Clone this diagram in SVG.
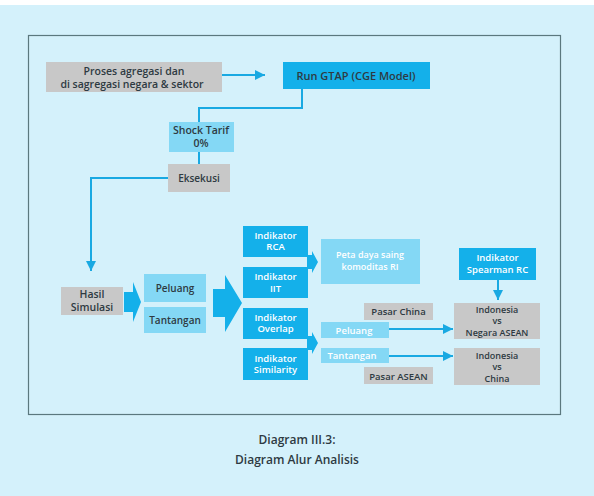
<svg xmlns="http://www.w3.org/2000/svg" width="594" height="496" viewBox="0 0 594 496">
<defs>
<marker id="ah" viewBox="0 0 10 10" refX="10" refY="5" markerWidth="10" markerHeight="10" markerUnits="userSpaceOnUse" orient="auto">
<path d="M0,0 L10,5 L0,10 z" fill="#19a9e2"/>
</marker>
<style>
.gray{fill:#c8c8c8}
.dark{fill:#14b0ea}
.light{fill:#84d8f5}
.t{font-family:"Open Sans","Noto Sans","Liberation Sans",sans-serif;font-weight:600;text-anchor:middle}
.td{fill:#2e3a42}
.tw{fill:#ffffff}
.ln{fill:none;stroke:#19a9e2;stroke-width:2}
.blk{fill:#14b0ea}
.s12{font-size:12px}
.s11{font-size:11px}
.s105{font-size:10.5px}
.s10{font-size:10px}
.s95{font-size:9.5px}
.s9{font-size:9px}
</style>
</defs>
<rect x="0" y="0" width="594" height="496" fill="#d4f1fb"/>
<rect x="0" y="0" width="594" height="5" fill="#ffffff"/>
<rect x="28.5" y="35.5" width="532" height="379" fill="none" stroke="#5b787e" stroke-width="1.2"/>

<g id="connectors">
<line class="ln" x1="222" y1="75" x2="265" y2="75" marker-end="url(#ah)"/>
<polyline class="ln" points="302,89 302,108 199,108 199,122"/>
<line class="ln" x1="199" y1="152" x2="199" y2="164"/>
<polyline class="ln" points="168,178 91,178 91,271" marker-end="url(#ah)"/>
<polygon class="blk" points="124,292 133,292 133,282 141,302 133,322 133,312 124,312"/>
<polygon class="blk" points="213,289 225,289 225,275 242,303 225,332 225,317 213,317"/>
<polygon class="blk" points="307,255 312,255 312,251 318,262 312,273 312,269 307,269"/>
<polygon class="blk" points="307,336 312,336 312,332 318,343 312,354 312,350 307,350"/>
<line class="ln" x1="498" y1="280" x2="498" y2="300" marker-end="url(#ah)"/>
<line class="ln" x1="389" y1="329" x2="453" y2="329" marker-end="url(#ah)"/>
<line class="ln" x1="389" y1="356" x2="453" y2="356" marker-end="url(#ah)"/>
</g>

<g id="proses">
<rect class="gray" x="46" y="62" width="176" height="30"/>
<text class="t td s105" x="134" y="75">Proses agregasi dan</text>
<text class="t td s105" x="132" y="87.5">di sagregasi negara &amp; sektor</text>
</g>
<g id="rungtap">
<rect class="dark" x="283" y="62" width="147" height="27"/>
<text class="t td s11" x="356" y="79.5">Run GTAP (CGE Model)</text>
</g>
<g id="shock">
<rect class="light" x="169" y="122" width="65" height="30"/>
<text class="t td s105" x="201" y="134">Shock Tarif</text>
<text class="t td s105" x="201" y="146.5">0%</text>
</g>
<g id="eksekusi">
<rect class="gray" x="168" y="164" width="62" height="28"/>
<text class="t td s10" x="199" y="181.5">Eksekusi</text>
</g>
<g id="hasil">
<rect class="gray" x="61" y="287" width="62" height="28"/>
<text class="t td s105" x="92" y="298">Hasil</text>
<text class="t td s105" x="92" y="310.5">Simulasi</text>
</g>
<g id="peluang1">
<rect class="light" x="144" y="274" width="62" height="28"/>
<text class="t td s10" x="175" y="291.5">Peluang</text>
</g>
<g id="tantangan1">
<rect class="light" x="144" y="307" width="62" height="26"/>
<text class="t td s10" x="175" y="323.5">Tantangan</text>
</g>
<g id="rca">
<rect class="dark" x="243" y="226" width="65" height="31"/>
<text class="t tw s95" x="275.5" y="238.5">Indikator</text>
<text class="t tw s95" x="275.5" y="250">RCA</text>
</g>
<g id="iit">
<rect class="dark" x="243" y="267" width="65" height="31"/>
<text class="t tw s95" x="275.5" y="280">Indikator</text>
<text class="t tw s95" x="275.5" y="291.5">IIT</text>
</g>
<g id="overlap">
<rect class="dark" x="243" y="308" width="65" height="31"/>
<text class="t tw s95" x="275.5" y="320.5">Indikator</text>
<text class="t tw s95" x="275.5" y="332">Overlap</text>
</g>
<g id="similarity">
<rect class="dark" x="243" y="348" width="65" height="32"/>
<text class="t tw s95" x="275.5" y="361.5">Indikator</text>
<text class="t tw s95" x="275.5" y="373">Similarity</text>
</g>
<g id="peta">
<rect class="light" x="321" y="239" width="99" height="45"/>
<text class="t tw s9" x="370" y="258">Peta daya saing</text>
<text class="t tw s9" x="370" y="269.5">komoditas RI</text>
</g>
<g id="spearman">
<rect class="dark" x="459" y="248" width="77" height="32"/>
<text class="t tw s95" x="497.5" y="261">Indikator</text>
<text class="t tw s95" x="497.5" y="273">Spearman  RC</text>
</g>
<g id="pasarchina">
<rect class="gray" x="364" y="303" width="69" height="17"/>
<text class="t td s95" x="398.5" y="315">Pasar China</text>
</g>
<g id="peluang2">
<rect class="light" x="321" y="322" width="68" height="16"/>
<text class="t tw s95" x="354" y="333.5">Peluang</text>
</g>
<g id="tantangan2">
<rect class="light" x="321" y="348" width="68" height="15"/>
<text class="t tw s95" x="352" y="359">Tantangan</text>
</g>
<g id="pasarasean">
<rect class="gray" x="364" y="367" width="69" height="17"/>
<text class="t td s95" x="398.5" y="379.5">Pasar ASEAN</text>
</g>
<g id="indoasean">
<rect class="gray" x="454" y="303" width="86" height="36"/>
<text class="t td s9" x="497" y="312.5">Indonesia</text>
<text class="t td s9" x="497" y="324">vs</text>
<text class="t td s9" x="497" y="335.5">Negara ASEAN</text>
</g>
<g id="indochina">
<rect class="gray" x="454" y="348" width="86" height="37"/>
<text class="t td s9" x="497" y="358.5">Indonesia</text>
<text class="t td s9" x="497" y="370">vs</text>
<text class="t td s9" x="497" y="381.5">China</text>
</g>
<g id="caption">
<text class="t td s12" x="297" y="444">Diagram III.3:</text>
<text class="t td s12" x="297" y="464">Diagram Alur Analisis</text>
</g>
</svg>
